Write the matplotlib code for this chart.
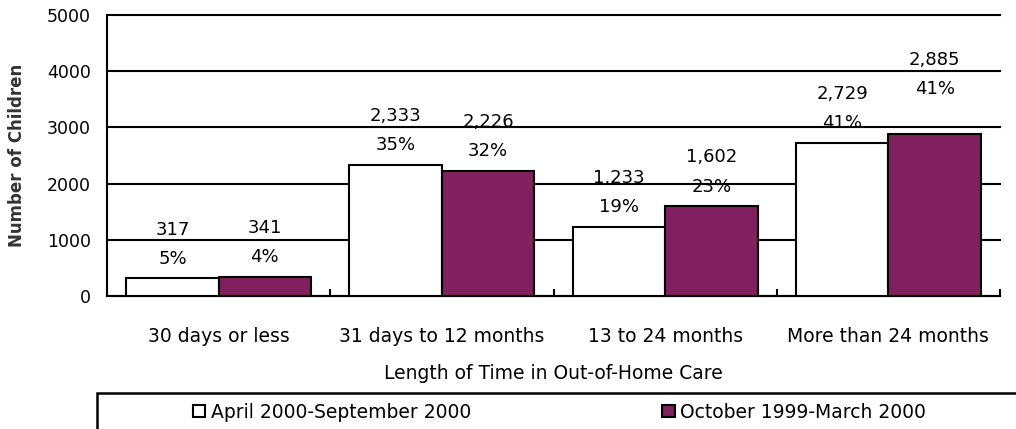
import matplotlib
matplotlib.use("Agg")
import matplotlib.pyplot as plt
from matplotlib.patches import Patch, Rectangle
import numpy as np

# Data
categories = ["30 days or less", "31 days to 12 months", "13 to 24 months", "More than 24 months"]
apr_sep_2000 = [317, 2333, 1233, 2729]
apr_sep_pct = ["5%", "35%", "19%", "41%"]
oct_mar_2000 = [341, 2226, 1602, 2885]
oct_mar_pct = ["4%", "32%", "23%", "41%"]
series_names = ["April 2000-September 2000", "October 1999-March 2000"]
yticks = [0, 1000, 2000, 3000, 4000, 5000]

purple = "#80205F"
plt.rcParams["font.family"] = ["DejaVu Sans"]

fig = plt.figure(figsize=(10.16, 4.29), dpi=100)
ax = fig.add_axes([107 / 1016, 1 - 296 / 429, (1000 - 107) / 1016, (296 - 15) / 429])

x = np.arange(len(categories))
w = 0.414
b1 = ax.bar(x - w / 2, apr_sep_2000, w, color="white", edgecolor="black", linewidth=1.5, zorder=3)
b2 = ax.bar(x + w / 2, oct_mar_2000, w, color=purple, edgecolor="black", linewidth=1.5, zorder=3)

# value + percent labels above bars
def label(bars, vals, pcts, lift):
    for bar, v, p, extra in zip(bars, vals, pcts, lift):
        cx = bar.get_x() + bar.get_width() / 2
        ax.annotate(p, (cx, v), xytext=(0, 14 + extra), textcoords="offset points",
                    ha="center", va="center", fontsize=13)
        ax.annotate(f"{v:,}", (cx, v), xytext=(0, 35 + extra), textcoords="offset points",
                    ha="center", va="center", fontsize=13)

label(b1, apr_sep_2000, apr_sep_pct, [0, 0, 0, 0])
label(b2, oct_mar_2000, oct_mar_pct, [0, 0, 0, 18])

ax.set_xlim(-0.5, 3.5)
ax.set_ylim(0, 5000)
ax.set_yticks(yticks)
ax.set_yticklabels([str(t) for t in yticks], fontsize=12.5)
ax.tick_params(axis="y", length=0, pad=11.5)
ax.set_xticks(x)
ax.set_xticklabels(categories, fontsize=13.5)
ax.tick_params(axis="x", which="major", length=0, pad=22)
ax.set_xticks(np.arange(0.5, 4, 1), minor=True)
ax.tick_params(axis="x", which="minor", direction="in", length=5, width=1.5, color="black")

ax.yaxis.grid(True, color="black", linewidth=1.5)
for gl in ax.get_ygridlines():
    gl.set_clip_on(False)
ax.set_axisbelow(True)

for s in ["top", "right"]:
    ax.spines[s].set_visible(False)
for s in ["left", "bottom"]:
    ax.spines[s].set_linewidth(1.5)
    ax.spines[s].set_color("black")

ax.set_xlabel("Length of Time in Out-of-Home Care", fontsize=13.5, labelpad=13)
ax.set_ylabel("Number of Children", fontsize=12, fontweight="bold", color="#333333")
ax.yaxis.set_label_coords(-(107 - 26) / 893, 0.5)

# legend box, cut off at right and bottom like the original
fig.patches.append(Rectangle((97 / 1016, -0.1), 1.0, 0.1 + 1 - 393 / 429, transform=fig.transFigure,
                             fill=False, edgecolor="black", linewidth=1.8))
handles = [Patch(facecolor="white", edgecolor="black", linewidth=1.5),
           Patch(facecolor=purple, edgecolor="black", linewidth=1.5)]
fig.legend(handles, series_names, loc="center left", bbox_to_anchor=(193 / 1016, 1 - 412 / 429),
           ncol=2, frameon=False, fontsize=13.5, handlelength=0.65, handleheight=0.65,
           handletextpad=0.3, columnspacing=10.2, borderpad=0, borderaxespad=0)

fig.savefig("out.png", dpi=100)
